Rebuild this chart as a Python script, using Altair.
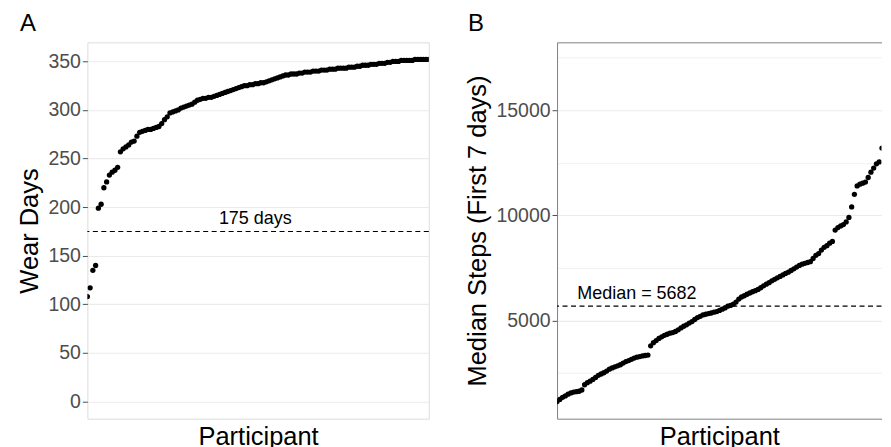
import altair as alt
import pandas as pd

# ---------------- data ----------------
wear_days = [
    108, 117, 135, 140, 199, 203, 220, 226, 233, 236,
    238, 241, 257, 260, 262, 264, 267, 268, 273, 277,
    278, 279, 280, 280, 281, 282, 283, 286, 290, 293,
    297, 298, 299, 300, 302, 303, 304, 305, 306, 308,
    310, 311, 312, 312, 313, 313, 314, 315, 316, 317,
    318, 319, 320, 321, 322, 323, 324, 325, 325, 326,
    326, 327, 327, 328, 328, 329, 330, 331, 332, 333,
    334, 335, 336, 336, 337, 337, 337, 338, 338, 339,
    339, 339, 340, 340, 340, 341, 341, 341, 342, 342,
    342, 343, 343, 343, 343, 344, 344, 344, 345, 345,
    346, 346, 346, 347, 347, 347, 348, 348, 348, 349,
    349, 350, 350, 350, 351, 351, 351, 351, 351, 352,
    352, 352, 352, 352, 352,
]

median_steps = [
    1150, 1250, 1350, 1420, 1500, 1560, 1600, 1620, 1640, 1700,
    1950, 2050, 2120, 2200, 2300, 2400, 2460, 2520, 2600, 2690,
    2750, 2800, 2850, 2900, 2980, 3050, 3100, 3160, 3220, 3260,
    3290, 3320, 3340, 3360, 3800, 3950, 4050, 4150, 4230, 4300,
    4350, 4400, 4430, 4480, 4560, 4650, 4730, 4800, 4880, 4950,
    5050, 5140, 5200, 5270, 5300, 5330, 5360, 5400, 5430, 5480,
    5540, 5600, 5682, 5720, 5780, 5880, 6020, 6120, 6180, 6250,
    6310, 6370, 6420, 6480, 6560, 6650, 6730, 6800, 6890, 6960,
    7030, 7100, 7170, 7240, 7300, 7380, 7460, 7540, 7620, 7680,
    7720, 7760, 7800, 7950, 8100, 8180, 8350, 8480, 8560, 8680,
    8760, 9300, 9420, 9500, 9560, 9690, 9900, 10400, 11000, 11400,
    11480, 11530, 11580, 11800, 12050, 12250, 12450, 12540, 13200, 14000,
    14270, 14700, 15300, 16100, 17411,
]

wear_threshold = [175]
wear_label = ["175 days"]
steps_median = [5682]
steps_label = ["Median = 5682"]

panel_titles = ["A", "B"]
x_title = "Participant"
y_titles = ["Wear Days", "Median Steps (First 7 days)"]

wear_ticks = [0, 25, 50, 75, 100, 125, 150, 175, 200, 225, 250, 275, 300, 325, 350]
steps_ticks = [2500, 5000, 7500, 10000, 12500, 15000, 17500]

FONT = "Liberation Sans"
BORDER = "#7F7F7F"
TITLE_SIZE = 25.5
N = len(wear_days)

# panel widths: the reference's right panel runs past the picture's edge,
# so only the visible part of its x range is shown
W_FULL = 342
W_B = 325


def expanded(lo, hi, f=0.05):
    r = hi - lo
    return [lo - f * r, hi + f * r]


dfA = pd.DataFrame({"Participant": list(range(1, N + 1)), "value": wear_days})
NB = len(median_steps)
dfB = pd.DataFrame({"Participant": list(range(1, NB + 1)), "value": median_steps})

domA = expanded(0, max(wear_days))
domB = expanded(min(median_steps), max(median_steps))
xdomA = [1, N]
xdomB = [1, 1 + (NB - 1) * W_B / W_FULL]


def x_enc(dom, border):
    return alt.X(
        "Participant:Q",
        scale=alt.Scale(domain=dom, nice=False, zero=False),
        axis=alt.Axis(
            labels=False, ticks=False, domain=border, domainColor=BORDER, domainWidth=1,
            grid=False,
            title=x_title, titleFontSize=TITLE_SIZE, titleFont=FONT,
            titleFontWeight="normal", titleColor="black",
            titlePadding=6, labelPadding=0,
        ),
    )


def y_enc(title, dom, ticks, major, border):
    return alt.Y(
        "value:Q",
        scale=alt.Scale(domain=dom, nice=False, zero=False),
        axis=alt.Axis(
            title=title, values=ticks,
            labelExpr=f"datum.value % {major} === 0 ? datum.label : ''",
            tickOpacity={"condition": {"test": f"datum.value % {major} !== 0", "value": 0}, "value": 1},
            gridWidth={"condition": {"test": f"datum.value % {major} !== 0", "value": 0.7}, "value": 1.1},
            gridColor="#EBEBEB", grid=True,
            domain=border, domainColor=BORDER, domainWidth=1,
            tickSize=5, tickColor="#4D4D4D", tickWidth=1,
            labelPadding=2, labelFontSize=19.5, labelFont=FONT, labelColor="#4D4D4D",
            titleFontSize=TITLE_SIZE, titleFont=FONT, titleFontWeight="normal",
            titleColor="black", titlePadding=5, format="d",
        ),
    )


def panel(df, xdom, width, title, dom, ticks, major, ref_val, label, label_x, letter, open_right):
    pts = alt.Chart(df).mark_circle(size=28, color="black", opacity=1, clip=True).encode(
        x=x_enc(xdom, open_right), y=y_enc(title, dom, ticks, major, open_right)
    )
    rule = alt.Chart(pd.DataFrame({"value": ref_val})).mark_rule(
        color="black", strokeDash=[5, 3.5], strokeWidth=1.2
    ).encode(y="value:Q")
    txt_enc = dict(y="value:Q", text="label:N")
    if open_right:
        txt_enc["x"] = alt.X(
            "Participant:Q",
            axis=alt.Axis(orient="top", labels=False, ticks=False, title=None, grid=False,
                          domain=True, domainColor=BORDER, domainWidth=1),
        )
    else:
        txt_enc["x"] = "Participant:Q"
    txt = alt.Chart(pd.DataFrame({"Participant": [label_x], "value": ref_val, "label": label})).mark_text(
        align="center", baseline="alphabetic", dy=-7, fontSize=18, font=FONT, color="black"
    ).encode(**txt_enc)
    props = dict(
        width=width, height=377,
        title=alt.TitleParams(
            letter, anchor="start", frame="bounds", fontSize=24, font=FONT,
            fontWeight="normal", color="black", baseline="alphabetic", offset=-13, dx=2,
        ),
    )
    if open_right:
        props["view"] = alt.ViewBackground(stroke="transparent")
    layered = alt.layer(pts, rule, txt).properties(**props)
    if open_right:
        layered = layered.resolve_axis(x="independent")
    return layered


chartA = panel(dfA, xdomA, W_FULL, y_titles[0], domA, wear_ticks, 50, wear_threshold,
               wear_label, 62, panel_titles[0], False)
chartB = panel(dfB, xdomB, W_B, y_titles[1], domB, steps_ticks, 5000, steps_median,
               steps_label, 30, panel_titles[1], True)

chart = alt.hconcat(chartA, chartB, spacing=34.5).properties(
    padding={"left": 8.5, "top": 3, "right": 0, "bottom": 5}
).configure_view(
    stroke=BORDER, strokeWidth=1
).configure(background="white")

chart.save("out.html", embed_options={"renderer": "svg", "actions": False})
